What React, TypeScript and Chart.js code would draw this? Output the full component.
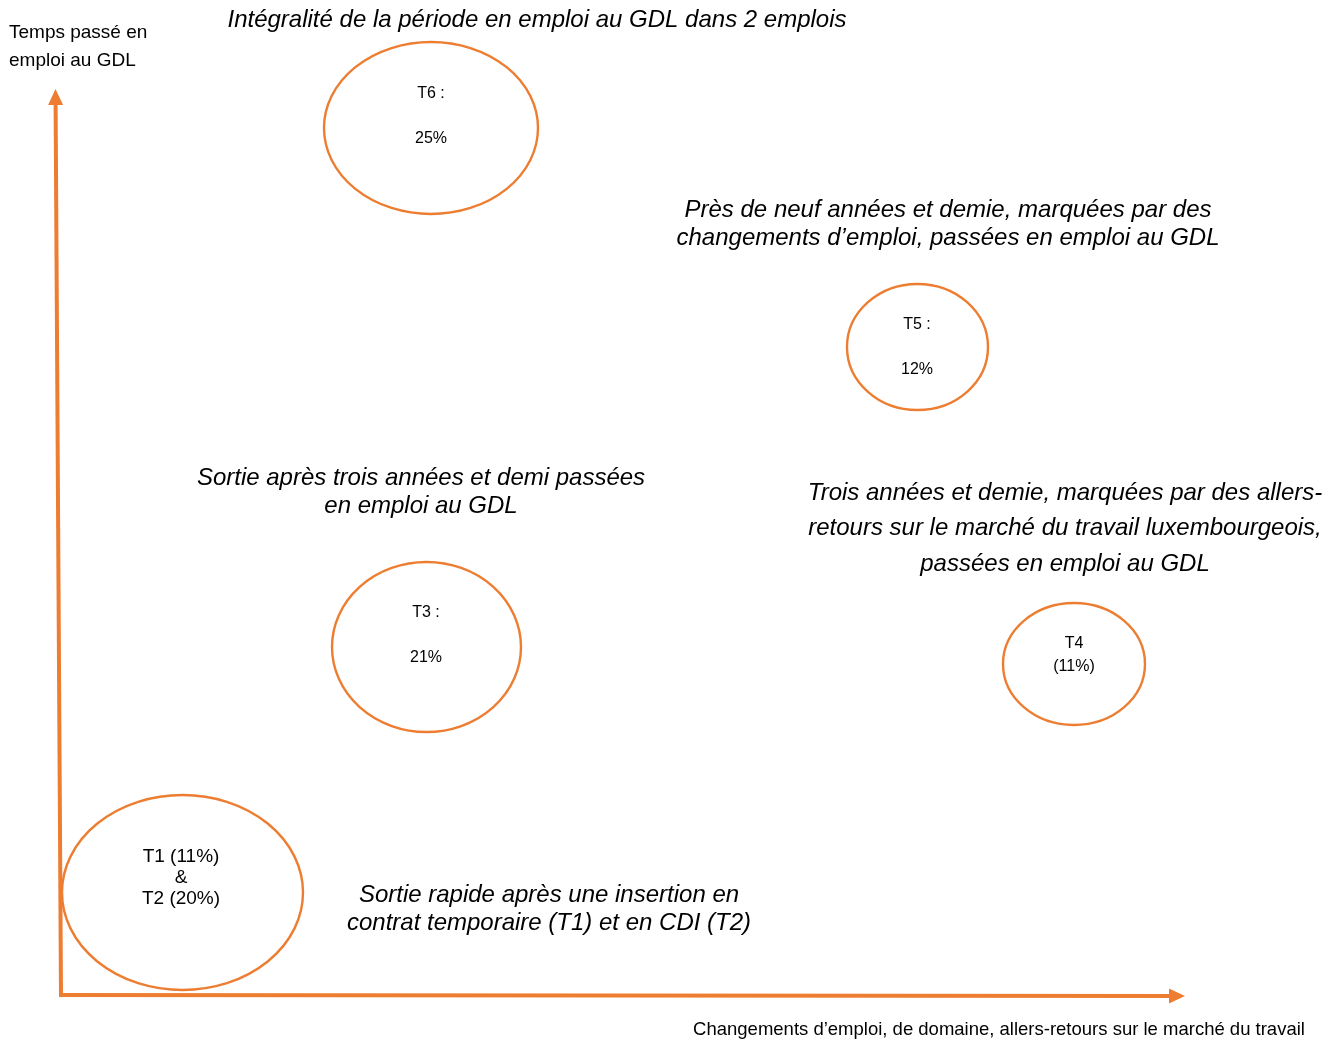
import { useEffect, useRef } from 'react';
import { Chart, registerables } from 'chart.js';

Chart.register(...registerables);

const CANVAS_W = 1338;
const CANVAS_H = 1041;
const ORANGE = '#ED7D31';
const FONT = "'Liberation Sans', Arial, sans-serif";

// Typologies (clusters) placed on the two conceptual axes
const clusterNames = ['T1 & T2', 'T3', 'T4', 'T5', 'T6'];
const clusterX = [120.5, 364.5, 1012, 855.5, 369];
const clusterY = [102.5, 348, 331, 648, 867];
const clusterRadiusX = [120.5, 94.5, 71, 70.5, 107];
const clusterRadiusY = [97.5, 85, 61, 63, 86];
const clusterLabels = [
  ['T1 (11%)', '&', 'T2 (20%)'],
  ['T3 :', '', '21%'],
  ['T4', '(11%)'],
  ['T5 :', '', '12%'],
  ['T6 :', '', '25%'],
];
const clusterLabelX = [119, 364, 1012, 855, 369];
const clusterLabelY = [117, 359.5, 339.5, 647.5, 878.5];
const clusterLabelSize = [19, 16, 16, 16, 16];
const clusterLabelLineHeight = [21, 22.5, 23, 22.5, 22.5];

// Italic descriptions
const descriptionLines = [
  ['Intégralité de la période en emploi au GDL dans 2 emplois'],
  ['Près de neuf années et demie, marquées par des', 'changements d’emploi, passées en emploi au GDL'],
  ['Sortie après trois années et demi passées', 'en emploi au GDL'],
  [
    'Trois années et demie, marquées par des allers-',
    'retours sur le marché du travail luxembourgeois,',
    'passées en emploi au GDL',
  ],
  ['Sortie rapide après une insertion en', 'contrat temporaire (T1) et en CDI (T2)'],
];
const descriptionX = [475, 886, 359, 1003, 487];
const descriptionY = [975, 771, 503, 466.5, 86];
const descriptionLineHeight = [28, 28, 28, 35.5, 28];

// Axes (arrows) and their titles
const yAxisTitle = ['Temps passé en', 'emploi au GDL'];
const yAxisTitleX = -53;
const yAxisTitleY = 948;
const xAxisTitle = 'Changements d’emploi, de domaine, allers-retours sur le marché du travail';
const xAxisTitleX = 937;
const xAxisTitleY = -35;
const yArrowFrom = { x: -1, y: 0 };
const yArrowTo = { x: -6.5, y: 906 };
const xArrowFrom = { x: -3, y: 0 };
const xArrowTo = { x: 1123, y: -1 };

const X_MIN = -62;
const X_MAX = 1276;
const Y_MIN = -46;
const Y_MAX = 995;

function drawArrow(ctx: CanvasRenderingContext2D, x1: number, y1: number, x2: number, y2: number) {
  const ang = Math.atan2(y2 - y1, x2 - x1);
  const headLen = 16;
  const headHalf = 7.5;
  const bx = x2 - headLen * Math.cos(ang);
  const by = y2 - headLen * Math.sin(ang);
  ctx.save();
  ctx.strokeStyle = ORANGE;
  ctx.fillStyle = ORANGE;
  ctx.lineWidth = 4;
  ctx.lineCap = 'butt';
  ctx.beginPath();
  ctx.moveTo(x1, y1);
  ctx.lineTo(bx + Math.cos(ang), by + Math.sin(ang));
  ctx.stroke();
  ctx.beginPath();
  ctx.moveTo(x2, y2);
  ctx.lineTo(bx - headHalf * Math.sin(ang), by + headHalf * Math.cos(ang));
  ctx.lineTo(bx + headHalf * Math.sin(ang), by - headHalf * Math.cos(ang));
  ctx.closePath();
  ctx.fill();
  ctx.restore();
}

const diagramPlugin = {
  id: 'diagram',
  afterDatasetsDraw(chart: any) {
    const { ctx } = chart;
    const xs = chart.scales.x;
    const ys = chart.scales.y;
    const px = (v: number) => xs.getPixelForValue(v);
    const py = (v: number) => ys.getPixelForValue(v);

    // axes arrows
    drawArrow(ctx, px(yArrowFrom.x), py(yArrowFrom.y), px(yArrowTo.x), py(yArrowTo.y));
    drawArrow(ctx, px(xArrowFrom.x), py(xArrowFrom.y), px(xArrowTo.x), py(xArrowTo.y));

    // ellipses
    ctx.save();
    ctx.strokeStyle = ORANGE;
    ctx.lineWidth = 2.4;
    clusterNames.forEach((_, i) => {
      const cx = px(clusterX[i]);
      const cy = py(clusterY[i]);
      const rx = Math.abs(px(clusterX[i] + clusterRadiusX[i]) - cx);
      const ry = Math.abs(py(clusterY[i] + clusterRadiusY[i]) - cy);
      ctx.beginPath();
      ctx.ellipse(cx, cy, rx, ry, 0, 0, Math.PI * 2);
      ctx.stroke();
    });
    ctx.restore();

    ctx.save();
    ctx.fillStyle = '#000000';
    ctx.textAlign = 'center';
    ctx.textBaseline = 'middle';
    // cluster labels
    clusterLabels.forEach((lines, i) => {
      ctx.font = `${clusterLabelSize[i]}px ${FONT}`;
      const lh = clusterLabelLineHeight[i];
      const cx = px(clusterLabelX[i]);
      const cy = py(clusterLabelY[i]);
      const top = cy - ((lines.length - 1) * lh) / 2;
      lines.forEach((t, k) => ctx.fillText(t, cx, top + k * lh));
    });
    // descriptions
    ctx.font = `italic 24px ${FONT}`;
    descriptionLines.forEach((lines, i) => {
      const lh = descriptionLineHeight[i];
      const cx = px(descriptionX[i]);
      const cy = py(descriptionY[i]);
      const top = cy - ((lines.length - 1) * lh) / 2;
      lines.forEach((t, k) => ctx.fillText(t, cx, top + k * lh));
    });
    // axis titles
    ctx.font = `19px ${FONT}`;
    ctx.textAlign = 'left';
    const ty = py(yAxisTitleY);
    ctx.fillText(yAxisTitle[0], px(yAxisTitleX), ty - 14);
    ctx.fillText(yAxisTitle[1], px(yAxisTitleX), ty + 14);
    ctx.textAlign = 'center';
    ctx.font = `18.5px ${FONT}`;
    ctx.fillText(xAxisTitle, px(xAxisTitleX), py(xAxisTitleY));
    ctx.restore();
  },
};

export default function App() {
  const canvasRef = useRef<HTMLCanvasElement | null>(null);

  useEffect(() => {
    document.body.style.margin = '0';
    const canvas = canvasRef.current;
    if (!canvas) return;
    const chart = new Chart(canvas, {
      type: 'scatter',
      data: {
        datasets: [
          {
            label: 'Typologies',
            data: clusterX.map((x, i) => ({ x, y: clusterY[i] })),
            pointRadius: 0,
            pointHoverRadius: 0,
          },
        ],
      },
      options: {
        responsive: false,
        animation: false,
        events: [],
        layout: { padding: 0 },
        plugins: { legend: { display: false }, tooltip: { enabled: false } },
        scales: {
          x: { type: 'linear', min: X_MIN, max: X_MAX, display: false },
          y: { type: 'linear', min: Y_MIN, max: Y_MAX, display: false },
        },
      },
      plugins: [diagramPlugin],
    });
    return () => chart.destroy();
  }, []);

  return (
    <div style={{ width: CANVAS_W, height: CANVAS_H, background: '#ffffff' }}>
      <canvas ref={canvasRef} width={CANVAS_W} height={CANVAS_H} style={{ display: 'block' }} />
    </div>
  );
}
